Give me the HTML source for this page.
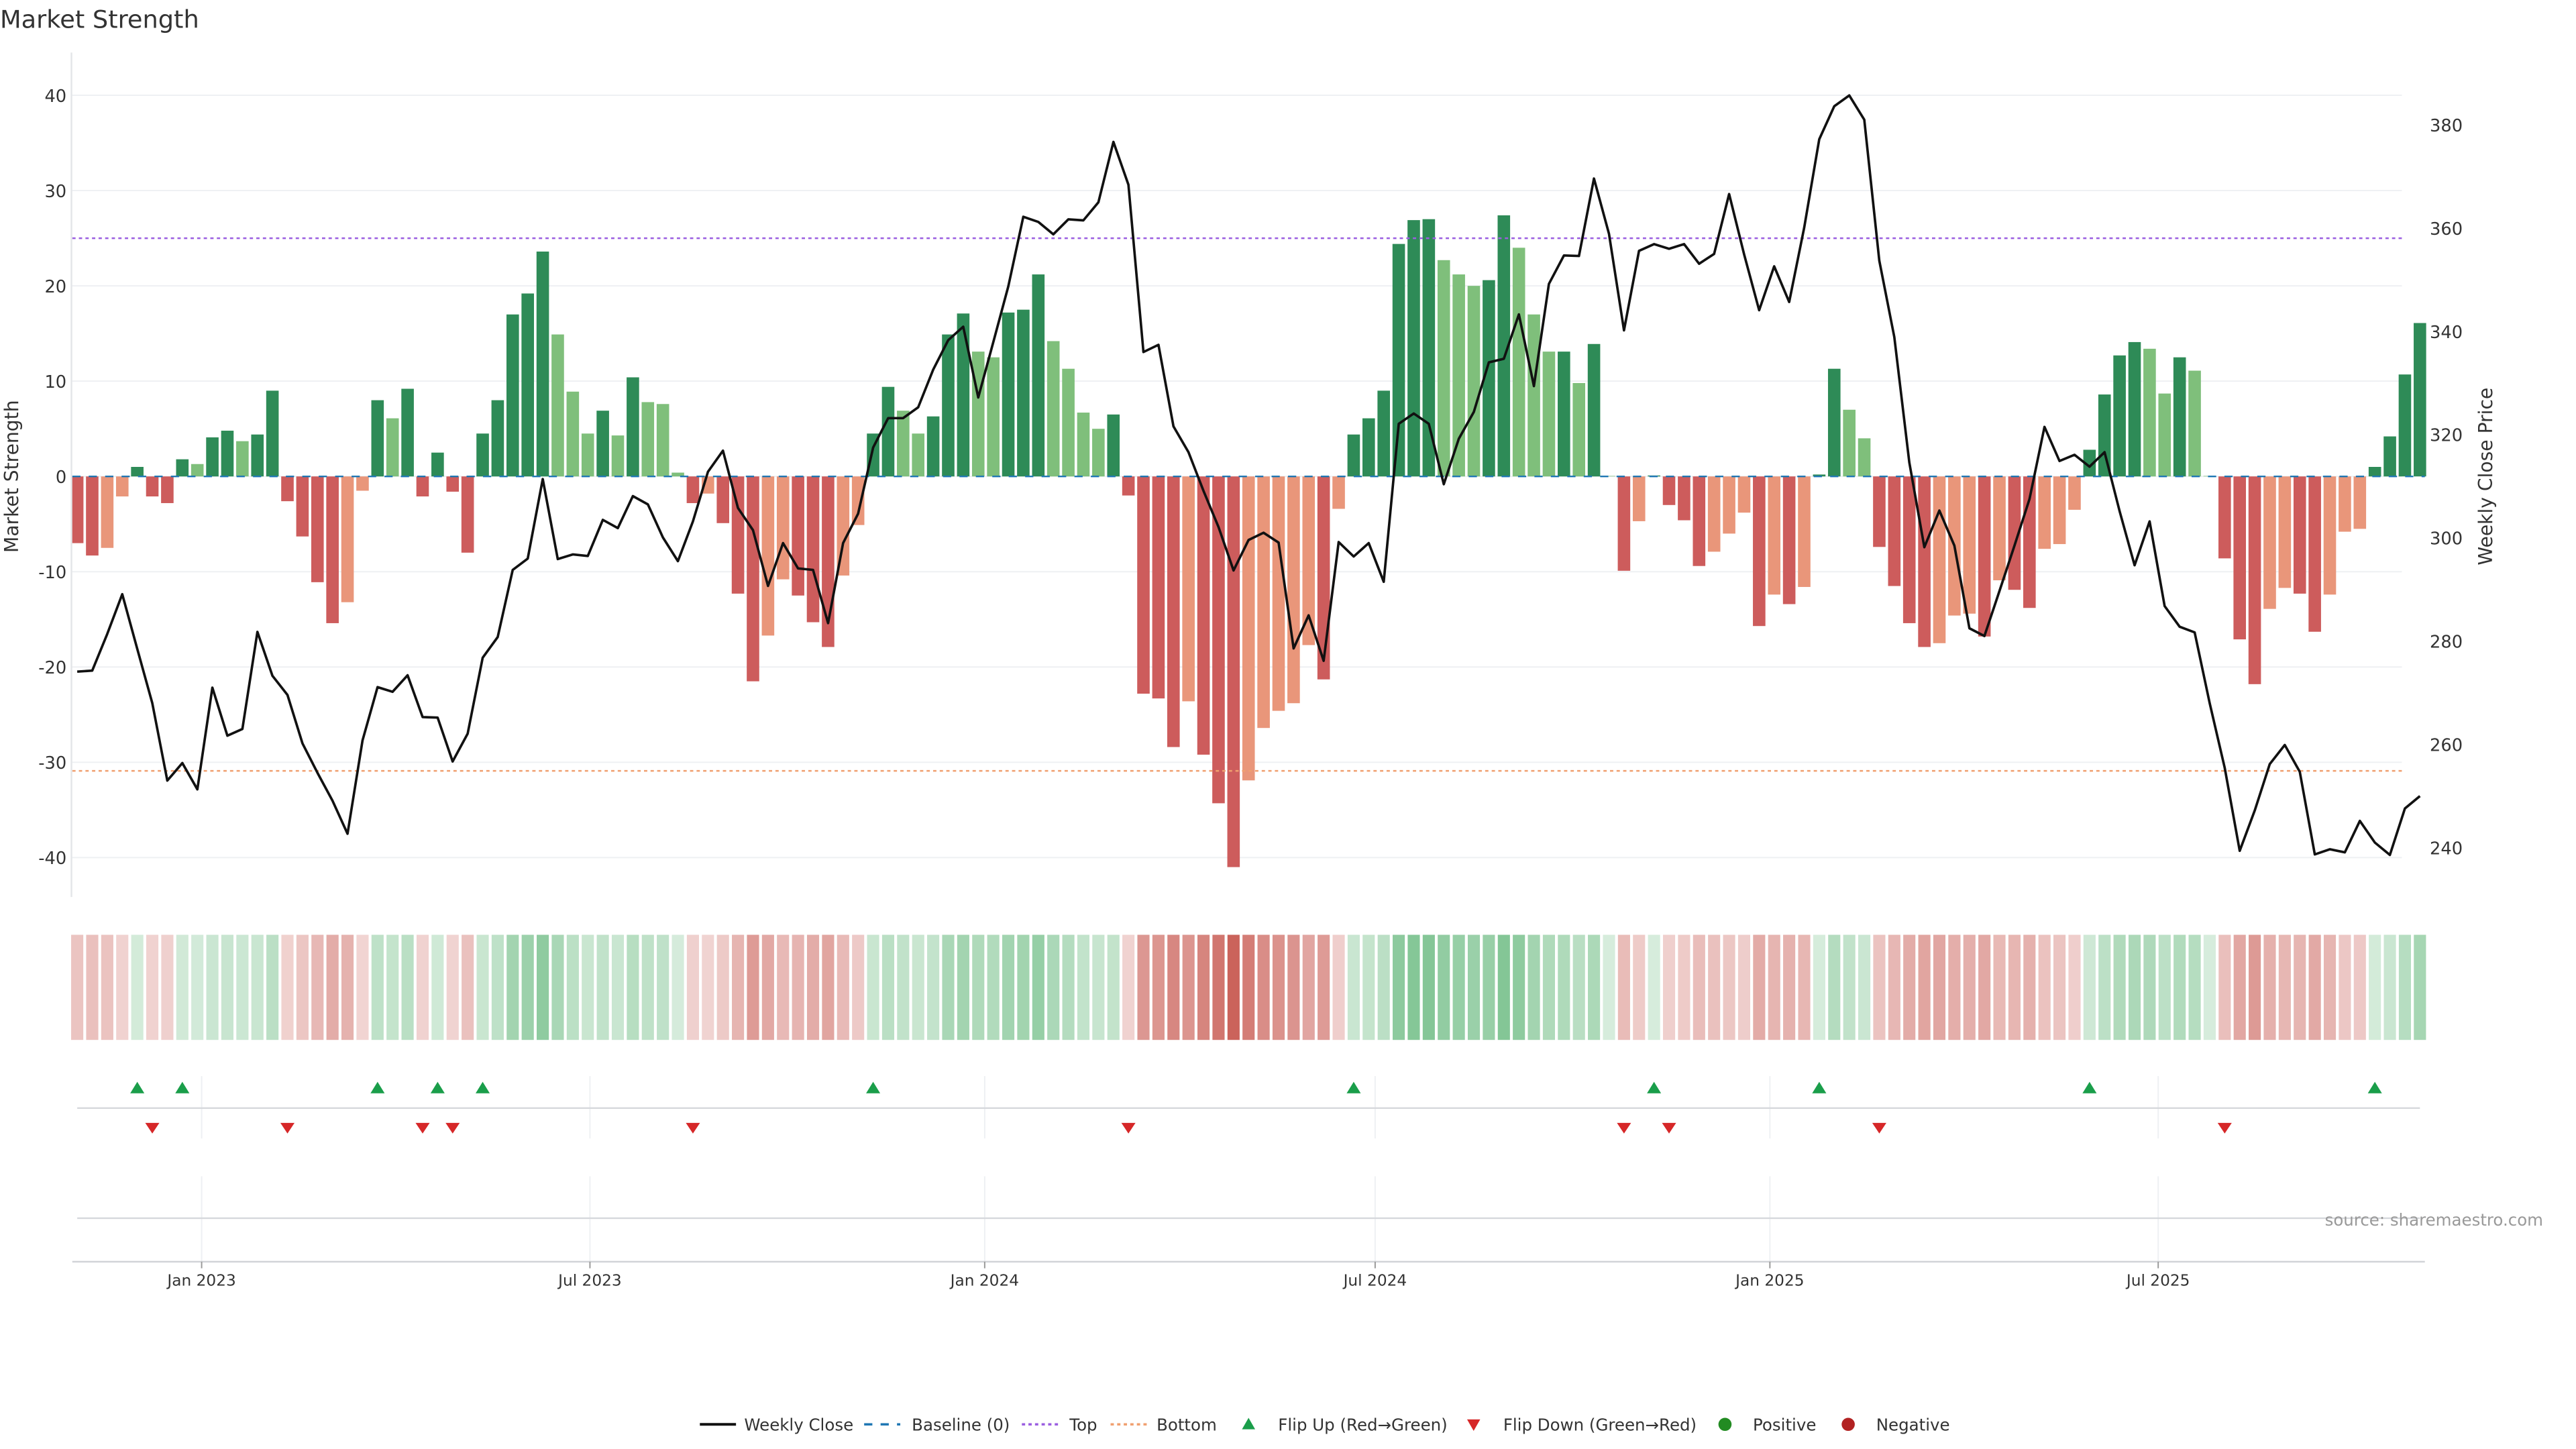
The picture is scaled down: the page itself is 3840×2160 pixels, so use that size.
<!DOCTYPE html>
<html><head><meta charset="utf-8"><title>Market Strength</title>
<style>
html,body{margin:0;padding:0;background:#fff;}
svg{display:block;font-family:"DejaVu Sans","Liberation Sans",sans-serif;}
</style></head>
<body>
<svg id="chart" width="3840" height="2160" viewBox="0 0 1568 882" xmlns="http://www.w3.org/2000/svg">
<text x="0" y="17" font-size="15" fill="#333">Market Strength</text>
<g id="grid"></g>
<g id="bars"></g>
<g id="lines"></g>
<g id="heat"></g>
<g id="flips"></g>
<g id="axes"></g>
<text x="1548" y="746" font-size="10" fill="#999" text-anchor="end">source: sharemaestro.com</text>
<g id="legend"></g>
</svg>
<script>
const strength = [-7,-8.3,-7.5,-2.1,1,-2.1,-2.8,1.8,1.3,4.1,4.8,3.7,4.4,9,-2.6,-6.3,-11.1,-15.4,-13.2,-1.5,8,6.1,9.2,-2.1,2.5,-1.6,-8,4.5,8,17,19.2,23.6,14.9,8.9,4.5,6.9,4.3,10.4,7.8,7.6,0.4,
-2.8,-1.8,-4.9,-12.3,-21.5,-16.7,-10.8,-12.5,-15.3,-17.9,-10.4,-5.1,4.5,9.4,6.9,4.5,6.3,14.9,17.1,13.1,12.5,17.2,17.5,21.2,14.2,11.3,6.7,5,6.5,-2,-22.8,-23.3,-28.4,-23.6,-29.2,-34.3,-41,-31.9,-26.4,-24.6,
-23.8,-17.7,-21.3,-3.4,4.4,6.1,9,24.4,26.9,27,22.7,21.2,20,20.6,27.4,24,17,13.1,13.1,9.8,13.9,0.05,-9.9,-4.7,0.1,-3,-4.6,-9.4,-7.9,-6,-3.8,-15.7,-12.4,-13.4,-11.6,0.2,11.3,7,4,
-7.4,-11.5,-15.4,-17.9,-17.5,-14.6,-14.4,-16.8,-10.9,-11.9,-13.8,-7.6,-7.1,-3.5,2.8,8.6,12.7,14.1,13.4,8.7,12.5,11.1,0.05,-8.6,-17.1,-21.8,-13.9,-11.7,-12.3,-16.3,-12.4,-5.8,-5.5,1,4.2,10.7,16.1];
const closes = [274.1,274.3,281.4,289.1,278.5,268.0,253.0,256.4,251.3,271.0,261.7,263.0,281.8,273.3,269.6,260.2,254.5,249.1,242.7,260.8,271.1,270.2,273.4,265.3,265.2,256.7,262.1,276.8,280.8,293.8,296.0,311.4,295.9,296.8,296.5,303.5,301.9,308.1,306.5,300.1,295.5,
303.2,312.8,316.9,305.8,301.5,290.7,299.0,294.1,293.8,283.5,299.0,304.7,317.5,323.2,323.2,325.3,332.6,338.3,340.9,327.2,337.9,348.7,362.2,361.2,358.8,361.7,361.5,365.0,376.7,368.4,336.0,337.4,321.6,316.6,309.1,302.1,293.7,299.6,301.0,299.1,
278.6,285.0,276.2,299.2,296.4,299.0,291.5,322.1,324.1,322.1,310.4,319.2,324.4,334.0,334.7,343.3,329.4,349.2,354.7,354.6,369.6,358.9,340.2,355.6,356.9,356.0,356.9,353.1,355.0,366.6,354.9,344.1,352.6,345.7,360.1,377.2,383.6,385.7,381.0,353.7,338.9,
314.6,298.2,305.3,298.5,282.5,281.0,289.7,298.5,307.5,321.5,314.9,316.1,313.8,316.6,305.2,294.7,303.2,286.8,282.8,281.7,268.0,255.5,239.4,247.2,256.2,259.9,254.7,238.7,239.7,239.1,245.2,241.0,238.6,247.6,250.0];
const startDate = "2022-11-04";
const leftTicks = [-40,-30,-20,-10,0,10,20,30,40];
const rightTicks = [240,260,280,300,320,340,360,380];
const dateTicks = ["2023-01-01","2023-07-01","2024-01-01","2024-07-01","2025-01-01","2025-07-01"];
const dateTickLabels = ["Jan 2023","Jul 2023","Jan 2024","Jul 2024","Jan 2025","Jul 2025"];
const topLevel = [25];
const bottomLevel = [-30.9];

const NS="http://www.w3.org/2000/svg";
function mk(parent,tag,attrs,text){const e=document.createElementNS(NS,tag);for(const k in attrs)e.setAttribute(k,attrs[k]);if(text!==undefined)e.textContent=text;parent.appendChild(e);return e;}
const t0=Date.parse(startDate);
const WEEK=9.141;
function xIdx(i){return 47+WEEK*i;}
function xDate(s){return 47+(Date.parse(s)-t0)/(7*86400000)*WEEK;}
function yL(v){return 290-5.8*v;}
function yR(p){return 516-(p-240)*3.1429;}
const PL=44, PR=1476, GR=1462;

const grid=document.getElementById('grid');
leftTicks.forEach(v=>{const l=mk(grid,'line',{x1:PL,x2:GR,y1:yL(v),y2:yL(v),stroke:'#eef0f3','stroke-width':0.8});

});

const bars=document.getElementById('bars');
strength.forEach((v,i)=>{
  const prev=i>0?strength[i-1]:0;
  let c;
  if(v>=0) c=(v>=prev)?'#2e8b57':'#7fbf7b';
  else c=(v<=prev)?'#cd5c5c':'#e9967a';
  const y0=yL(0),y1=yL(v);
  const r=mk(bars,'rect',{x:xIdx(i)-3.8,width:7.6,y:Math.min(y0,y1),height:Math.max(0.3,Math.abs(y1-y0)),fill:c});
  
  
});

const lines=document.getElementById('lines');
let e;
e=mk(lines,'line',{x1:PL,x2:GR,y1:yL(topLevel[0]),y2:yL(topLevel[0]),stroke:'#9b5fe0','stroke-width':1,'stroke-dasharray':'2,2'});


e=mk(lines,'line',{x1:PL,x2:GR,y1:yL(bottomLevel[0]),y2:yL(bottomLevel[0]),stroke:'#f0a070','stroke-width':1,'stroke-dasharray':'2,2'});


e=mk(lines,'line',{x1:PL,x2:PR,y1:yL(0),y2:yL(0),stroke:'#1f77b4','stroke-width':1,'stroke-dasharray':'5,5'});


e=mk(lines,'polyline',{points:closes.map((p,i)=>xIdx(i).toFixed(2)+','+yR(p).toFixed(2)).join(' '),fill:'none',stroke:'#111','stroke-width':1.5,'stroke-linejoin':'round'});



const heat=document.getElementById('heat');
strength.forEach((v,i)=>{
  const a=Math.min(1,0.2+0.6*Math.abs(v)/41);
  const base=v>=0?[50,160,80]:[190,60,50];
  const col='rgb('+base.map(b=>Math.round(255-a*(255-b))).join(',')+')';
  const r=mk(heat,'rect',{x:xIdx(i)-3.7,width:7.4,y:569,height:64,fill:col});
  
  
});

const flips=document.getElementById('flips');
dateTicks.forEach(d=>{const x=xDate(d);
  e=mk(flips,'line',{x1:x,x2:x,y1:655,y2:693,stroke:'#eef0f3','stroke-width':0.8});
  
  
  e=mk(flips,'line',{x1:x,x2:x,y1:716,y2:768,stroke:'#eef0f3','stroke-width':0.8});
  
  
});
e=mk(flips,'line',{x1:47,x2:1473,y1:674.5,y2:674.5,stroke:'#d6d8dc','stroke-width':1});


e=mk(flips,'line',{x1:47,x2:1473,y1:741.5,y2:741.5,stroke:'#d6d8dc','stroke-width':1});


strength.forEach((v,i)=>{
  if(i===0)return;
  const p=strength[i-1];
  const x=xIdx(i);
  if(v>0&&p<=0){const t=mk(flips,'polygon',{points:`${x},658.5 ${x-4.3},665.5 ${x+4.3},665.5`,fill:'#1a9e4a'});
    
    }
  if(v<=0&&p>0){const t=mk(flips,'polygon',{points:`${x-4.3},683.5 ${x+4.3},683.5 ${x},690`,fill:'#d62728'});
    
    }
});

const axes=document.getElementById('axes');
e=mk(axes,'line',{x1:43.5,x2:43.5,y1:32,y2:546,stroke:'#e3e5e8','stroke-width':1});


leftTicks.forEach(v=>{const t=mk(axes,'text',{x:40.5,y:yL(v)+4,'font-size':10.5,fill:'#333','text-anchor':'end'},String(v));
  
  });
rightTicks.forEach(v=>{const t=mk(axes,'text',{x:1479,y:yR(v)+4,'font-size':10.5,fill:'#333'},String(v));
  
  });
e=mk(axes,'text',{x:0,y:0,'font-size':11.5,fill:'#333','text-anchor':'middle',transform:'translate(11,290) rotate(-90)'},'Market Strength');


e=mk(axes,'text',{x:0,y:0,'font-size':11.5,fill:'#333','text-anchor':'middle',transform:'translate(1517,290) rotate(-90)'},'Weekly Close Price');


e=mk(axes,'line',{x1:44,x2:1476,y1:768,y2:768,stroke:'#d0d2d6','stroke-width':1});


dateTicks.forEach((d,k)=>{const x=xDate(d);
  const tk=mk(axes,'line',{x1:x,x2:x,y1:768,y2:772,stroke:'#999','stroke-width':0.8});
  
  
  const t=mk(axes,'text',{x:x,y:782.5,'font-size':9.5,fill:'#333','text-anchor':'middle'},dateTickLabels[k]);
  
  });

const lg=document.getElementById('legend');
const LY=867;
function ltext(x,s){const t=mk(lg,'text',{x:x,y:LY+3.7,'font-size':10,fill:'#333'},s);
  
  }
e=mk(lg,'line',{x1:426,x2:448,y1:LY,y2:LY,stroke:'#111','stroke-width':1.6});


ltext(453,'Weekly Close');
e=mk(lg,'line',{x1:526,x2:548,y1:LY,y2:LY,stroke:'#1f77b4','stroke-width':1.4,'stroke-dasharray':'5,5'});


ltext(555,'Baseline (0)');
e=mk(lg,'line',{x1:622,x2:644,y1:LY,y2:LY,stroke:'#9b5fe0','stroke-width':1.4,'stroke-dasharray':'2,2'});


ltext(651,'Top');
e=mk(lg,'line',{x1:676,x2:698,y1:LY,y2:LY,stroke:'#f0a070','stroke-width':1.4,'stroke-dasharray':'2,2'});


ltext(704,'Bottom');
e=mk(lg,'polygon',{points:`760,${LY-4} 756,${LY+3} 764,${LY+3}`,fill:'#1a9e4a'});


ltext(778,'Flip Up (Red\u2192Green)');
e=mk(lg,'polygon',{points:`893,${LY-3} 901,${LY-3} 897,${LY+4}`,fill:'#d62728'});


ltext(915,'Flip Down (Green\u2192Red)');
e=mk(lg,'circle',{cx:1050,cy:LY,r:4,fill:'#228b22'});


ltext(1067,'Positive');
e=mk(lg,'circle',{cx:1125,cy:LY,r:4,fill:'#b22222'});


ltext(1142,'Negative');
</script>
</body></html>
